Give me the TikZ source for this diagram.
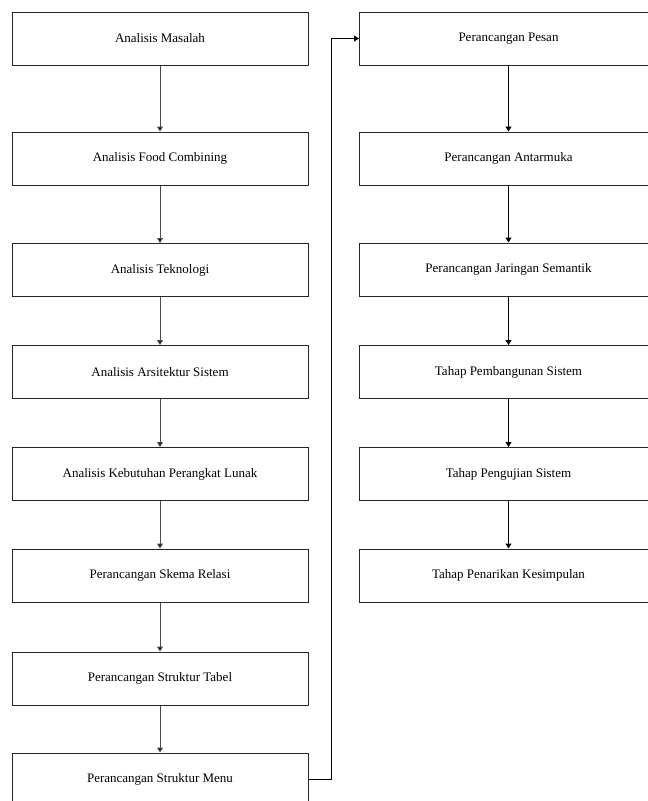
\documentclass[tikz,border=0pt]{standalone}
\usepackage{fontspec}
\setmainfont{Liberation Serif}
\usetikzlibrary{arrows.meta}
\begin{document}
\begin{tikzpicture}[x=1pt,y=-1pt,
  stepbox/.style={draw=black!85,line width=1pt,rectangle,minimum height=53pt,inner sep=0pt,font=\fontsize{13}{15}\selectfont,fill=white},
  lbox/.style={stepbox,minimum width=296pt},
  rbox/.style={stepbox,minimum width=298pt},
  flow/.style={line width=1pt,-{Triangle[length=5pt,width=6pt]}},
  lflow/.style={flow,draw=black!70,-{Triangle[length=5pt,width=6pt,fill=black]}},
  rflow/.style={flow,draw=black}]
\clip (0,0) rectangle (648,801);
\fill[white] (0,0) rectangle (648,801);
\node[lbox] (L1) at (160,38.5) {Analisis Masalah};
\node[lbox] (L2) at (160,158.5) {Analisis Food Combining};
\node[lbox] (L3) at (160,270) {Analisis Teknologi};
\node[lbox] (L4) at (160,372) {Analisis Arsitektur Sistem};
\node[lbox] (L5) at (160,474) {Analisis Kebutuhan Perangkat Lunak};
\node[lbox] (L6) at (160,575.5) {Perancangan Skema Relasi};
\node[lbox] (L7) at (160,678.5) {Perancangan Struktur Tabel};
\node[lbox] (L8) at (160,779.5) {Perancangan Struktur Menu};
\node[rbox] (R1) at (508.5,38.5) {Perancangan Pesan};
\node[rbox] (R2) at (508.5,158.5) {Perancangan Antarmuka};
\node[rbox] (R3) at (508.5,269.5) {Perancangan Jaringan Semantik};
\node[rbox] (R4) at (508.5,372) {Tahap Pembangunan Sistem};
\node[rbox] (R5) at (508.5,474) {Tahap Pengujian Sistem};
\node[rbox] (R6) at (508.5,575.5) {Tahap Penarikan Kesimpulan};
\draw[lflow] (L1) -- (L2);
\draw[lflow] (L2) -- (L3);
\draw[lflow] (L3) -- (L4);
\draw[lflow] (L4) -- (L5);
\draw[lflow] (L5) -- (L6);
\draw[lflow] (L6) -- (L7);
\draw[lflow] (L7) -- (L8);
\draw[rflow] (R1) -- (R2);
\draw[rflow] (R2) -- (R3);
\draw[rflow] (R3) -- (R4);
\draw[rflow] (R4) -- (R5);
\draw[rflow] (R5) -- (R6);
\coordinate (bend) at (331,779.5);
\draw[rflow] (L8.east) -- (bend) |- (R1.west);
\end{tikzpicture}
\end{document}
